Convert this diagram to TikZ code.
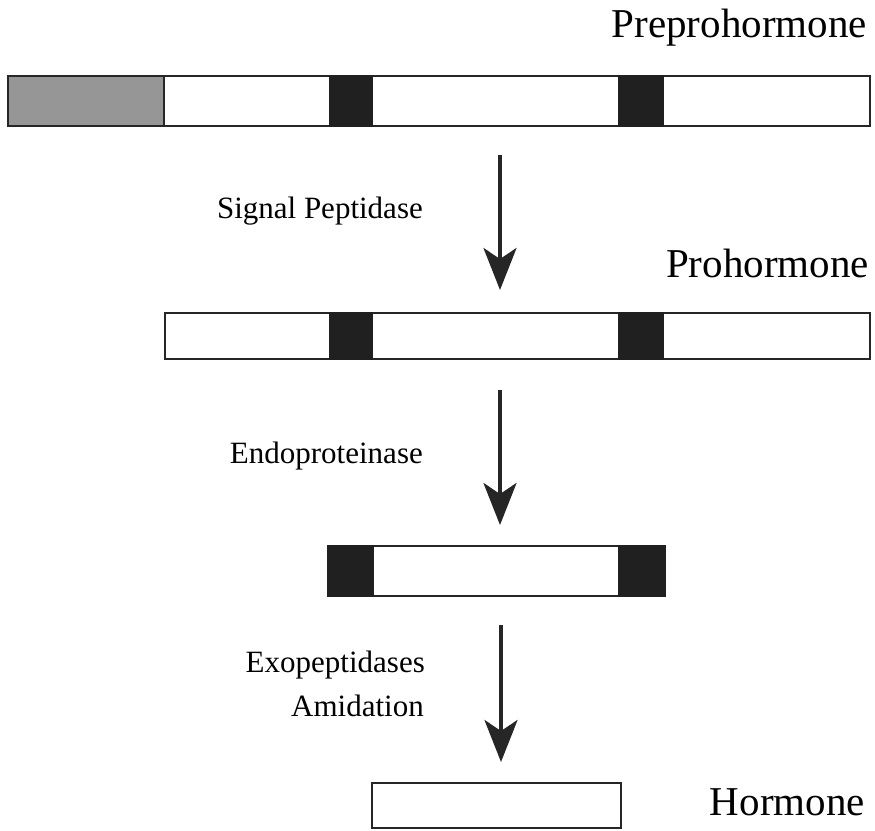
\documentclass[tikz,border=0pt]{standalone}
\usepackage{fontspec}
\usepackage{tikz}
\usepackage{xcolor}
\setmainfont{Liberation Serif}
\usetikzlibrary{arrows.meta}

\definecolor{signalgray}{RGB}{150,150,150}
\definecolor{cutblack}{RGB}{32,32,32}

\tikzset{
  segbox/.style={draw=black!85, line width=1.6pt, fill=white},
  cutbox/.style={draw=cutblack, fill=cutblack, line width=1.6pt},
  procarrow/.style={line width=3.5pt, draw=black!85,
    -{Stealth[length=42pt, width=33pt, inset=11pt]}},
  bigname/.style={anchor=base east, inner sep=0pt, font=\fontsize{41}{49}\selectfont},
  enzyme/.style={anchor=base east, inner sep=0pt, font=\fontsize{31}{37}\selectfont}
}

\begin{document}
\begin{tikzpicture}[x=1pt, y=-1pt]
  \useasboundingbox (0,0) rectangle (875,830);

  % preprohormone
  \draw[segbox] (164,76) rectangle (870,126);
  \draw[segbox, fill=signalgray] (8,76) rectangle (164,126);
  \draw[cutbox] (330,76) rectangle (372,126);
  \draw[cutbox] (619,76) rectangle (663,126);
  \node[bigname] (prepro) at (867,37) {Preprohormone};

  % prohormone
  \draw[segbox] (165,313) rectangle (870,359);
  \draw[cutbox] (330,313) rectangle (372,359);
  \draw[cutbox] (619,313) rectangle (663,359);
  \node[bigname] (pro) at (869,277) {Prohormone};

  % cleaved peptide
  \draw[segbox] (328,546) rectangle (665,596);
  \draw[cutbox] (328,546) rectangle (373,596);
  \draw[cutbox] (619,546) rectangle (665,596);

  % hormone
  \draw[segbox] (372,783) rectangle (621,828);
  \node[bigname] (horm) at (865,815) {Hormone};

  % processing steps
  \coordinate (sp top) at (500,155);
  \coordinate (sp tip) at (500,290);
  \draw[procarrow] (sp top) -- (sp tip);
  \node[enzyme] (signal) at (423,218) {Signal Peptidase};

  \coordinate (endo top) at (500,390);
  \coordinate (endo tip) at (500,525);
  \draw[procarrow] (endo top) -- (endo tip);
  \node[enzyme] (endo) at (423,463) {Endoproteinase};

  \coordinate (exo top) at (501,625);
  \coordinate (exo tip) at (501,762);
  \draw[procarrow] (exo top) -- (exo tip);
  \node[enzyme] (exo) at (425,672) {Exopeptidases};
  \node[enzyme] (amid) at (424,716) {Amidation};
\end{tikzpicture}
\end{document}
